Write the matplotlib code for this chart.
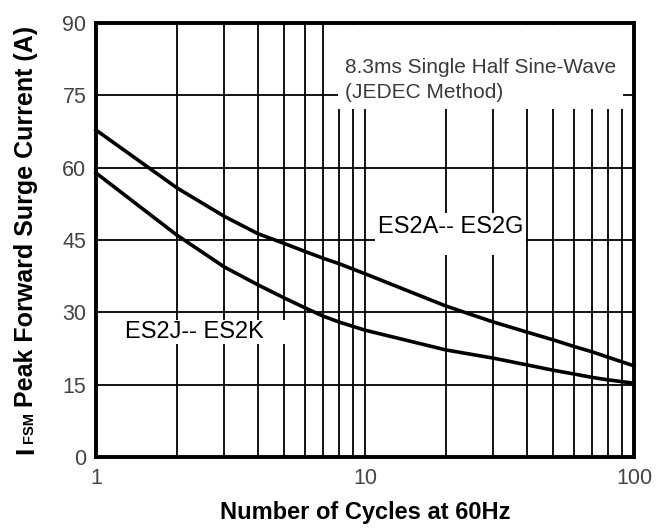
import numpy as np
import matplotlib
matplotlib.use('Agg')
import matplotlib.pyplot as plt
from matplotlib.ticker import FixedLocator, NullLocator

plt.rcParams['font.family'] = ['Liberation Sans', 'DejaVu Sans']

# cycles at 60Hz and surge current
cycles = [1, 2, 3, 4, 5, 6, 7, 8, 10, 20, 30, 40, 50, 60, 70, 80, 100]
es2a_g = [67.8, 55.8, 49.9, 46.3, 44.3, 42.6, 41.2, 40.1, 38.0, 31.3, 28.0,
          25.9, 24.3, 22.9, 21.8, 20.7, 18.9]
es2j_k = [58.9, 46.0, 39.4, 35.7, 33.0, 30.9, 29.2, 28.0, 26.3, 22.2, 20.5,
          19.1, 18.0, 17.2, 16.5, 16.0, 15.3]

xticks = [1, 10, 100]
xgrid = [2, 3, 4, 5, 6, 7, 8, 9, 10, 20, 30, 40, 50, 60, 70, 80, 90]
yticks = [0, 15, 30, 45, 60, 75, 90]

fig = plt.figure(figsize=(6.68, 5.29), dpi=100)
ax = fig.add_axes([96/668, 1-457/529, 538/668, 434/529])

ax.set_xscale('log')
ax.set_xlim(1, 100)
ax.set_ylim(0, 90)

for xv in xgrid:
    ax.axvline(xv, color='black', lw=1.3, zorder=1)
for yv in yticks[1:-1]:
    ax.axhline(yv, color='black', lw=1.3, zorder=1)

ax.plot(cycles, es2a_g, color='black', lw=2.6, zorder=5, clip_on=False)
ax.plot(cycles, es2j_k, color='black', lw=2.6, zorder=5, clip_on=False)

ax.xaxis.set_major_locator(FixedLocator(xticks))
ax.xaxis.set_minor_locator(NullLocator())
ax.set_xticklabels(['1', '10', '100'])
ax.set_yticks(yticks)
ax.tick_params(axis='both', length=0, labelsize=15.5, labelcolor='#444444')
ax.tick_params(axis='x', pad=8)
ax.tick_params(axis='y', pad=7)
for sp in ax.spines.values():
    sp.set_linewidth(2.8)
    sp.set_zorder(6)

# white boxes behind the notes hide the grid, as in the datasheet
ax.text(8.43, 80.8, ' \n8.3ms Single Half Sine-Wave\n(JEDEC Method)', fontsize=15,
        color='#3a3a3a', ha='left', va='center', linespacing=1.42,
        bbox=dict(facecolor='white', edgecolor='none', boxstyle='square,pad=0.35'),
        zorder=3)
ax.text(11.18, 46.2, 'ES2A-- ES2G\n ', fontsize=17, color='black', ha='left',
        va='center', linespacing=0.55,
        bbox=dict(facecolor='white', edgecolor='none', boxstyle='square,pad=0.12'),
        zorder=3)
ax.text(1.28, 25.9, 'ES2J-- ES2K    ', fontsize=17, color='black', ha='left',
        va='center',
        bbox=dict(facecolor='white', edgecolor='none', boxstyle='square,pad=0.05'),
        zorder=3)

fig.text(365/668, 1-519/529, 'Number of Cycles at 60Hz', fontsize=17,
         fontweight='bold', ha='center', va='baseline')

# y label: big I, smaller FSM, then the rest
bx = 33/668
fig.text(bx, 1-454/529, 'I', fontsize=19, fontweight='bold', rotation=90,
         rotation_mode='anchor', ha='left', va='baseline')
fig.text(bx, 1-443/529, 'FSM', fontsize=10.5, fontweight='bold', rotation=90,
         rotation_mode='anchor', ha='left', va='baseline')
fig.text(bx, 1-407/529, 'Peak Forward Surge Current (A)', fontsize=18,
         fontweight='bold', rotation=90, rotation_mode='anchor',
         ha='left', va='baseline')

fig.savefig('out.png', dpi=100)
